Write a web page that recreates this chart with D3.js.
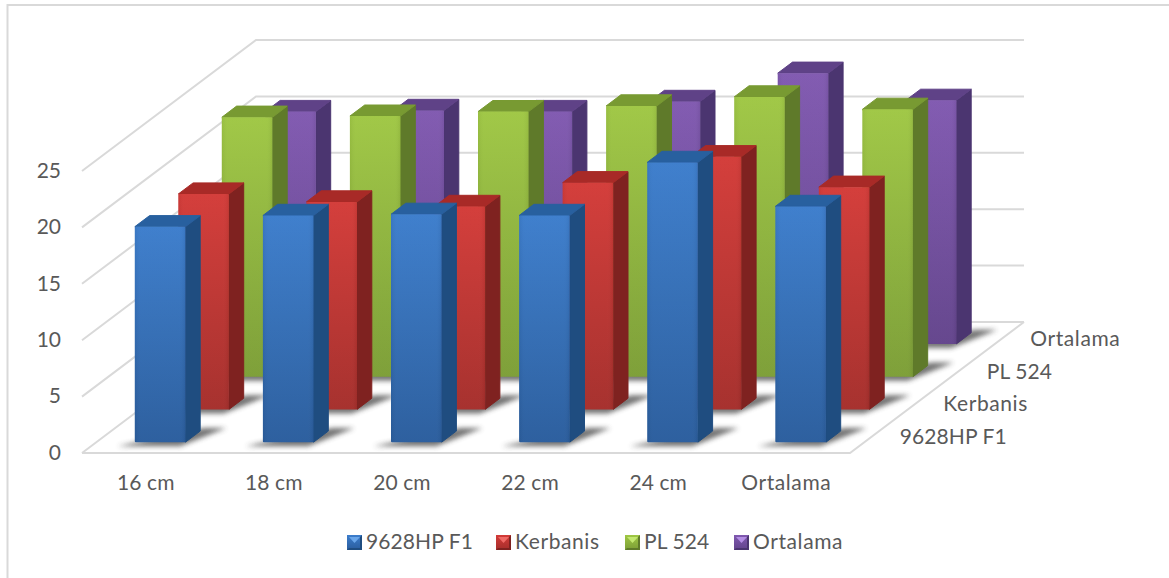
<!DOCTYPE html>
<html>
<head>
<meta charset="utf-8">
<script src="https://cdn.jsdelivr.net/npm/d3@7"></script>
<style>
  html, body { margin: 0; padding: 0; background: #fff; }
  svg { display: block; }
  text { font-family: Lato, "Open Sans", sans-serif; font-size: 21px; fill: #595959; }
</style>
</head>
<body>
<svg id="chart" width="1169" height="578"></svg>
<script>
var categories = ["16 cm", "18 cm", "20 cm", "22 cm", "24 cm", "Ortalama"];
var seriesNames = ["9628HP F1", "Kerbanis", "PL 524", "Ortalama"];
var yTicks = [0, 5, 10, 15, 20, 25];

var hybrid = [19.1, 20.1, 20.2, 20.1, 24.8, 20.9];
var kerbanis = [19.1, 18.4, 18.0, 20.1, 22.4, 19.7];
var pl524 = [23.0, 23.1, 23.5, 24.0, 24.8, 23.7];
var average = [20.6, 20.7, 20.6, 21.5, 24.0, 21.6];

var seriesValues = [hybrid, kerbanis, pl524, average];

// face, top and side shades per series
var palette = [
  { light: "#3c7dcc", dark: "#2a5d9d", top: "#28609f", side: "#1f4d80", swatch: "#6aa6ea" },
  { light: "#d33b38", dark: "#a52e2b", top: "#a82a27", side: "#7f2220", swatch: "#f06a66" },
  { light: "#9fc744", dark: "#7c9e36", top: "#789a32", side: "#5f7a2a", swatch: "#c3e870" },
  { light: "#8059b0", dark: "#63448c", top: "#5f4287", side: "#4b3570", swatch: "#b48ee4" }
];

var svg = d3.select("#chart");
var defs = svg.append("defs");

var x = d3.scaleBand().domain(categories).range([82, 850]).paddingInner(0.605).paddingOuter(0.3);
var y = d3.scaleLinear().domain([0, 25]).range([453, 171]);
var z = d3.scaleBand().domain(seriesNames).range([0, 131]).paddingInner(0.66).paddingOuter(0.33);

var skew = 174 / 131;

// oblique projection: z pushes a point back and to the right
function project(px, value, depth) {
  return [px + depth * skew, y(value) - depth];
}
function poly(points) {
  return points.map(function (p) { return p[0].toFixed(1) + "," + p[1].toFixed(1); }).join(" ");
}
// word labels need a little tracking to reach the same width as the digit ones
function tracking(d) {
  return /\d/.test(d) ? "0.1px" : "0.6px";
}

defs.append("filter").attr("id", "soft")
  .attr("x", "-30%").attr("y", "-80%").attr("width", "160%").attr("height", "260%")
  .append("feGaussianBlur").attr("stdDeviation", 2.5);

palette.forEach(function (c, i) {
  var g = defs.append("linearGradient").attr("id", "face" + i)
    .attr("x1", 0).attr("y1", 0).attr("x2", 0).attr("y2", 1);
  g.append("stop").attr("offset", 0).attr("stop-color", c.light);
  g.append("stop").attr("offset", 1).attr("stop-color", c.dark);
});
var sheen = defs.append("linearGradient").attr("id", "sheen");
sheen.append("stop").attr("offset", 0).attr("stop-color", "#000").attr("stop-opacity", 0.05);
sheen.append("stop").attr("offset", 0.12).attr("stop-color", "#fff").attr("stop-opacity", 0.02);
sheen.append("stop").attr("offset", 0.88).attr("stop-color", "#fff").attr("stop-opacity", 0.02);
sheen.append("stop").attr("offset", 1).attr("stop-color", "#000").attr("stop-opacity", 0.06);

// frame, only top and left edges show
var frame = svg.append("g").attr("fill", "none").attr("stroke", "#d9d9d9").attr("stroke-width", 2);
frame.append("path").attr("d", "M7.5,578V5H1169");

// walls and floor
var grid = svg.append("g").attr("fill", "none").attr("stroke", "#d9d9d9").attr("stroke-width", 2);
var xMin = x.range()[0], xMax = x.range()[1], depthMax = z.range()[1];
grid.selectAll("polyline").data(yTicks).join("polyline")
  .attr("points", function (t) {
    return poly([project(xMin, t, 0), project(xMin, t, depthMax), project(xMax, t, depthMax)]);
  });
grid.append("polyline")
  .attr("points", poly([project(xMin, 0, 0), project(xMax, 0, 0), project(xMax, 0, depthMax)]));

// back row first so the nearer rows overlap it
var rows = d3.range(seriesNames.length).reverse();
var bars = svg.append("g");

rows.forEach(function (si) {
  var name = seriesNames[si], c = palette[si];
  var z0 = z(name), z1 = z0 + z.bandwidth();
  var row = bars.append("g").attr("class", "row");

  row.selectAll("polygon.shadow").data(categories).join("polygon")
    .attr("class", "shadow")
    .attr("fill", "#3c3c3c").attr("opacity", 0.72).attr("filter", "url(#soft)")
    .attr("points", function (d) {
      var a = x(d), b = a + x.bandwidth();
      return poly([project(a - 12, 0, z0 - 4), project(b, 0, z0 - 4), project(b + 22, 0, z1 + 3), project(b, 0, z1 + 3)]);
    });

  categories.forEach(function (cat, ci) {
    var v = seriesValues[si][ci];
    var a = x(cat), b = a + x.bandwidth();
    var bar = row.append("g");
    bar.append("polygon").attr("fill", c.side).attr("stroke", c.side).attr("stroke-linejoin", "round")
      .attr("points", poly([project(b, 0, z0), project(b, 0, z1), project(b, v, z1), project(b, v, z0)]));
    bar.append("polygon").attr("fill", c.top).attr("stroke", c.top).attr("stroke-linejoin", "round")
      .attr("points", poly([project(a, v, z0), project(b, v, z0), project(b, v, z1), project(a, v, z1)]));
    var fl = project(a, v, z0), fr = project(b, 0, z0);
    bar.append("rect").attr("x", fl[0]).attr("y", fl[1]).attr("rx", 1)
      .attr("width", fr[0] - fl[0]).attr("height", fr[1] - fl[1]).attr("fill", "url(#face" + si + ")");
    bar.append("rect").attr("x", fl[0]).attr("y", fl[1]).attr("rx", 1)
      .attr("width", fr[0] - fl[0]).attr("height", fr[1] - fl[1]).attr("fill", "url(#sheen)");
  });
});

// value axis
svg.append("g").attr("transform", "translate(61,0)")
  .call(d3.axisLeft(y).tickValues(yTicks).tickSize(0).tickPadding(0))
  .call(function (g) {
    g.select(".domain").remove();
    g.selectAll("text").attr("font-size", null).attr("font-family", null).attr("dy", "0.3em");
  });

// category axis along the front floor edge
svg.append("g").attr("transform", "translate(0,490)")
  .call(d3.axisBottom(x).tickSize(0).tickPadding(0))
  .call(function (g) {
    g.select(".domain").remove();
    g.selectAll("text").attr("font-size", null).attr("font-family", null).attr("dy", 0)
      .style("letter-spacing", tracking);
  });

// series axis along the right floor edge
svg.append("g").selectAll("text").data(seriesNames).join("text")
  .attr("x", function (d) { return xMax + (z(d) + z.bandwidth() / 2) * skew + 28; })
  .attr("y", function (d) { return y(0) - z(d) - z.bandwidth() / 2 + 7.5; })
  .style("letter-spacing", tracking)
  .text(function (d) { return d; });

// legend
var legendX = [347, 496, 625, 734];
var legend = svg.append("g").selectAll("g").data(seriesNames).join("g")
  .attr("transform", function (d, i) { return "translate(" + legendX[i] + ",535)"; });
legend.append("rect").attr("width", 15).attr("height", 15)
  .attr("fill", function (d, i) { return "url(#face" + i + ")"; });
legend.append("polygon").attr("points", "2,2 13,2 7.5,8")
  .attr("fill", function (d, i) { return palette[i].swatch; });
legend.append("polygon").attr("points", "0,15 15,15 15,0 13,2 13,13 2,13 0,15")
  .attr("fill", function (d, i) { return palette[i].side; });
legend.append("text").attr("x", 19).attr("y", 13.5)
  .style("letter-spacing", tracking)
  .text(function (d) { return d; });
</script>
</body>
</html>
